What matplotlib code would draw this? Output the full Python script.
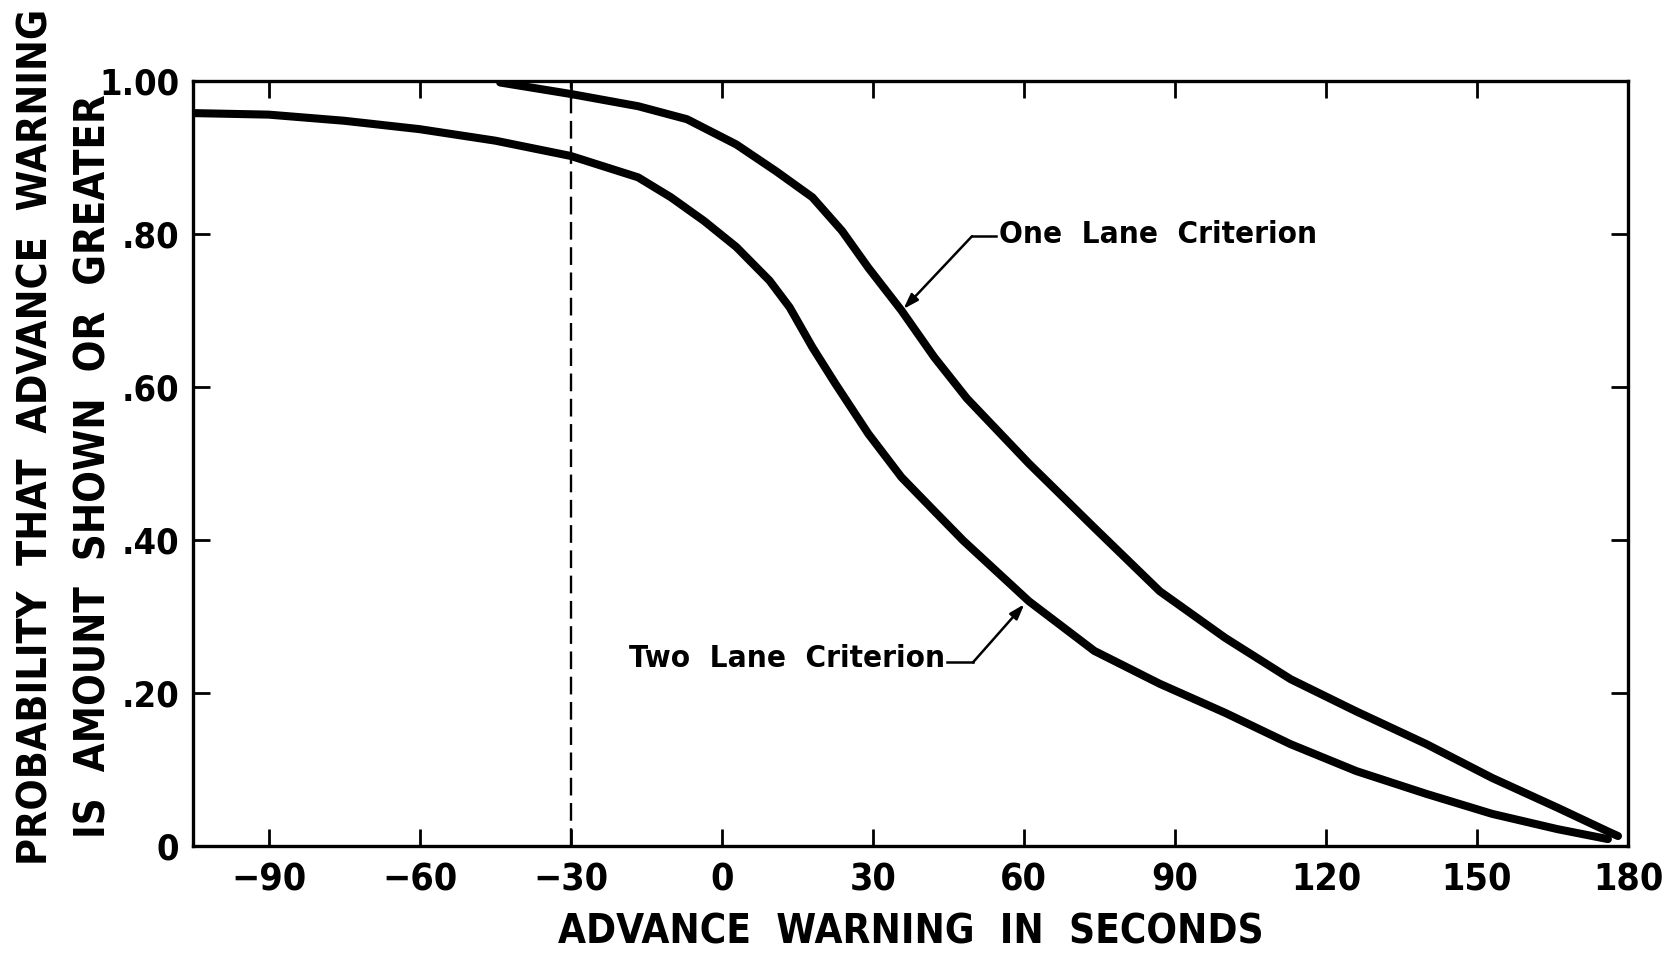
import numpy as np
import matplotlib
matplotlib.use("Agg")
import matplotlib.pyplot as plt

# curves (seconds, probability)
one_lane_x = [-44, -30, -16.6, -6.9, 2.9, 10.8, 18.0, 23.9, 29.1, 35.7, 42.2,
              48.7, 61, 74, 87, 100, 113, 126, 140, 153, 166, 176, 178]
one_lane_y = [0.998, 0.983, 0.967, 0.950, 0.917, 0.882, 0.848, 0.804, 0.756,
              0.700, 0.639, 0.585, 0.500, 0.416, 0.333, 0.272, 0.218, 0.176,
              0.133, 0.089, 0.050, 0.019, 0.013]

two_lane_x = [-105, -90, -75, -60, -45, -30, -16.6, -10.1, -3.5, 2.9, 9.5, 13.5,
              18.0, 22.6, 29.1, 35.7, 42.2, 48, 61, 74, 87, 100, 113, 126, 140,
              153, 166, 176]
two_lane_y = [0.958, 0.956, 0.948, 0.937, 0.922, 0.902, 0.874, 0.848, 0.817,
              0.783, 0.739, 0.704, 0.652, 0.604, 0.539, 0.482, 0.438, 0.399,
              0.320, 0.255, 0.212, 0.174, 0.133, 0.098, 0.068, 0.042, 0.022, 0.009]

xticks = [-90, -60, -30, 0, 30, 60, 90, 120, 150, 180]
xtick_labels = ["\u221290", "\u221260", "\u221230", "0", "30", "60", "90", "120", "150", "180"]
yticks = [0, 0.2, 0.4, 0.6, 0.8, 1.0]
ytick_labels = ["0", ".20", ".40", ".60", ".80", "1.00"]
cutoff = -30

FONT = dict(family="DejaVu Sans", fontstretch="condensed", fontweight="bold")

fig = plt.figure(figsize=(16.71, 9.57), dpi=100)
ax = fig.add_axes([0.1155, 0.116, 0.9743 - 0.1155, 0.9154 - 0.116])

ax.plot(one_lane_x, one_lane_y, color="black", lw=5.8,
        solid_capstyle="round", solid_joinstyle="round")
ax.plot(two_lane_x, two_lane_y, color="black", lw=5.8,
        solid_capstyle="round", solid_joinstyle="round")
ax.axvline(cutoff, color="black", lw=1.7, ls=(0, (7.5, 3.2)))

ax.set_xlim(-105, 180)
ax.set_ylim(0, 1.0)
ax.set_xticks(xticks)
ax.set_xticklabels(xtick_labels, **FONT, fontsize=27)
ax.set_yticks(yticks)
ax.set_yticklabels(ytick_labels, **FONT, fontsize=26)
ax.tick_params(direction="in", length=12, width=2, top=True, right=True, pad=10)
ax.tick_params(axis="x", pad=12)
for s in ax.spines.values():
    s.set_linewidth(2.4)

ax.set_xlabel("ADVANCE  WARNING  IN  SECONDS", **FONT, fontsize=29, labelpad=10)
fig.text(0.022, 0.544, "PROBABILITY  THAT  ADVANCE  WARNING", rotation=90,
         ha="center", va="center", **FONT, fontsize=29.5)
fig.text(0.056, 0.513, "IS  AMOUNT  SHOWN  OR  GREATER", rotation=90,
         ha="center", va="center", **FONT, fontsize=30)

arrow = dict(arrowstyle="-|>,head_length=0.9,head_width=0.3", color="black",
             lw=1.8, shrinkA=0, shrinkB=0)
# One lane label
ax.plot([49.7, 54.5], [0.797, 0.797], color="black", lw=1.8)
ax.annotate("", xy=(36.1, 0.702), xytext=(49.7, 0.797), arrowprops=arrow)
ax.text(55.0, 0.799, "One  Lane  Criterion", ha="left", va="center",
        **FONT, fontsize=22.5)
# Two lane label
ax.plot([44.8, 49.9], [0.240, 0.240], color="black", lw=1.8)
ax.annotate("", xy=(60.1, 0.316), xytext=(49.9, 0.240), arrowprops=arrow)
ax.text(44.3, 0.245, "Two  Lane  Criterion", ha="right", va="center",
        **FONT, fontsize=22.5)

fig.savefig("out.png", dpi=100)
